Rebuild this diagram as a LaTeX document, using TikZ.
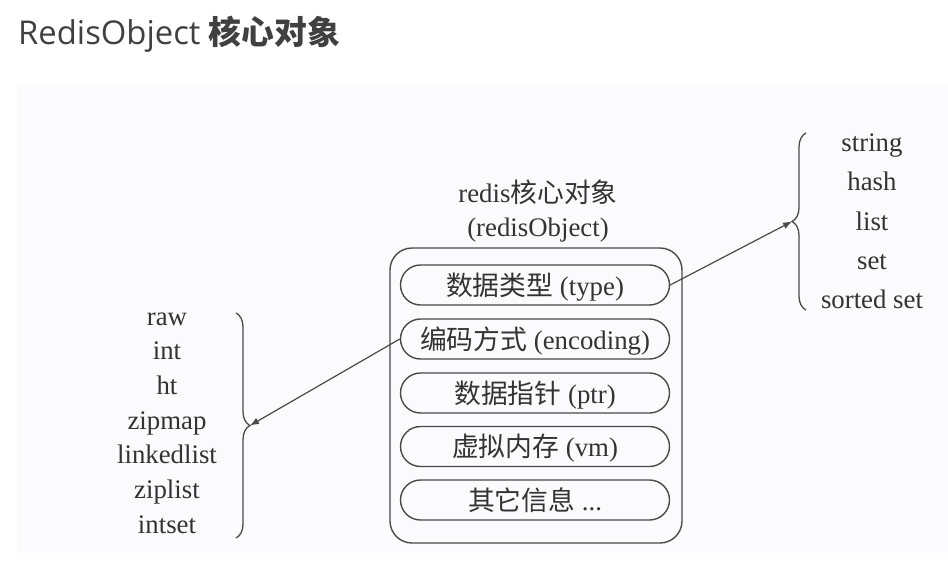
\documentclass[tikz,border=0pt]{standalone}
\usepackage{fontspec}
\setmainfont{Liberation Serif}
\newfontfamily\cjk{Noto Sans CJK SC}
\newfontfamily\titlelat{Open Sans}
\usetikzlibrary{decorations.pathreplacing,arrows.meta}
\definecolor{txt}{HTML}{333333}
\definecolor{ttl}{HTML}{404040}
\definecolor{lin}{HTML}{4A4A4A}
\definecolor{bg}{HTML}{FBFAFD}
\begin{document}
\begin{tikzpicture}[x=1pt,y=-1pt,
  lbl/.style={inner sep=0, anchor=base, text=txt, font=\fontsize{26.8}{30}\selectfont},
  pill/.style={draw=lin, line width=1.4pt, rounded corners=20pt, minimum width=269pt, minimum height=40pt,
     inner sep=0, text height=20pt, text depth=0pt, text=txt, font=\fontsize{26.8}{30}\selectfont},
  bracestyle/.style={draw=lin, line width=1.3pt, decorate, decoration={brace, amplitude=14pt}},
  arr/.style={draw=lin, line width=1.2pt, -{Latex[length=9pt,width=7pt]}}]
\useasboundingbox (0,0) rectangle (948,578);
\fill[bg] (17,85) rectangle (948,553);
\node[anchor=base west, inner sep=0, text=ttl] (title) at (18,45)
  {\fontsize{32.8}{38}\selectfont\titlelat RedisObject \cjk\bfseries 核心对象};
% header of object
\node[lbl] (hd1) at (538,202) {redis{\cjk 核心对象}};
\node[lbl] (hd2) at (538,236) {(redisObject)};
% outer box
\node[draw=lin, line width=1.4pt, rounded corners=22pt, minimum width=292pt, minimum height=295pt, inner sep=0] (obj) at (536,395.5) {};
% pills
\node[pill] (type) at (535,285) {{\cjk 数据类型} (type)};
\node[pill] (enc)  at (535,339) {{\cjk 编码方式} (encoding)};
\node[pill] (ptr)  at (535,393) {{\cjk 数据指针} (ptr)};
\node[pill] (vm)   at (535,446.5) {{\cjk 虚拟内存} (vm)};
\node[pill] (oth)  at (535,500) {{\cjk 其它信息} ...};
% right list
\node[lbl] (r1) at (872,151) {string};
\node[lbl] (r2) at (872,190) {hash};
\node[lbl] (r3) at (872,230) {list};
\node[lbl] (r4) at (872,269) {set};
\node[lbl] (r5) at (872,308) {sorted set};
% left list
\node[lbl] (l1) at (167,325) {raw};
\node[lbl] (l2) at (167,359.7) {int};
\node[lbl] (l3) at (167,394.3) {ht};
\node[lbl] (l4) at (167,429) {zipmap};
\node[lbl] (l5) at (167,463.6) {linkedlist};
\node[lbl] (l6) at (167,498.3) {ziplist};
\node[lbl] (l7) at (167,533) {intset};
% braces
\draw[bracestyle] (806,310) -- (806,133);
\draw[bracestyle] (236,313) -- (236,538);
\coordinate (rtip) at (792,221.5);
\coordinate (ltip) at (250,425.5);
% arrows
\draw[arr] (type.east) -- (rtip);
\draw[arr] (enc.west) -- (ltip);
\end{tikzpicture}
\end{document}
